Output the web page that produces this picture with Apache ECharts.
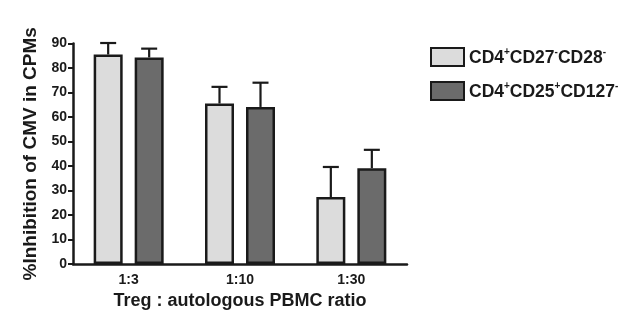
<!DOCTYPE html>
<html><head><meta charset="utf-8">
<script src="https://cdn.jsdelivr.net/npm/echarts@6/dist/echarts.min.js"></script>
<style>html,body{margin:0;padding:0;background:#fff}#c{width:637px;height:325px}</style>
</head><body><div id="c"></div>
<script>
var categories = ['1:3', '1:10', '1:30'];
var seriesNames = ['CD4+CD27-CD28-', 'CD4+CD25+CD127-'];
var meanA = [85.5, 65.5, 27.3];
var errTopA = [90.2, 72.3, 39.6];
var meanB = [84.3, 64.1, 39.1];
var errTopB = [87.9, 74.0, 46.6];
var yTicks = [0, 10, 20, 30, 40, 50, 60, 70, 80, 90];

var BW = 29, GAP = 12;
var chart = echarts.init(document.getElementById('c'), null, {renderer: 'canvas'});
var font = 'Liberation Sans, Arial, sans-serif';
var ink = '#1a1a1a';

function errSeries(name, means, tops, idx) {
  var data = categories.map(function (c, i) { return [i, means[i], tops[i]]; });
  return {
    type: 'custom', name: name + '_err', data: data, z: 1,
    renderItem: function (params, api) {
      var off = (idx === 0 ? -1 : 1) * (BW + GAP) / 2;
      var p0 = api.coord([api.value(0), api.value(1)]);
      var p1 = api.coord([api.value(0), api.value(2)]);
      var x = p0[0] + off;
      var st = {stroke: ink, lineWidth: 2.2};
      return {type: 'group', children: [
        {type: 'line', shape: {x1: x, y1: p0[1], x2: x, y2: p1[1]}, style: st},
        {type: 'line', shape: {x1: x - 8, y1: p1[1], x2: x + 8, y2: p1[1]}, style: st}
      ]};
    },
    encode: {x: 0, y: [1, 2]}, silent: true
  };
}

var richStyles = {
  b: {fontFamily: font, fontWeight: 'bold', fontSize: 17.5, color: ink, verticalAlign: 'bottom', lineHeight: 20},
  s: {fontFamily: font, fontWeight: 'bold', fontSize: 10, color: ink, verticalAlign: 'top', lineHeight: 20, padding: [0, 0, 8, 0]}
};
function fmtLegend(name) {
  var out = '';
  var re = /(CD\d+)([+-])/g, m;
  while ((m = re.exec(name))) {
    out += '{b|' + m[1] + '}{s|' + m[2] + '}';
  }
  return out;
}

chart.setOption({
  animation: false,
  backgroundColor: '#fff',
  grid: {left: 73, top: 43.5, bottom: 61, right: 230, containLabel: false},
  legend: {
    orient: 'vertical', left: 425, top: 42, itemWidth: 33, itemHeight: 18, itemGap: 14,
    icon: 'rect',
    data: seriesNames, formatter: fmtLegend,
    textStyle: {rich: richStyles}
  },
  xAxis: {
    type: 'category', data: categories,
    name: 'Treg : autologous PBMC ratio', nameLocation: 'middle', nameGap: 28,
    nameTextStyle: {fontFamily: font, fontWeight: 'bold', fontSize: 18, color: ink},
    axisLine: {lineStyle: {color: ink, width: 2.5}},
    axisTick: {alignWithLabel: true, length: 4, lineStyle: {color: ink, width: 2}},
    axisLabel: {fontFamily: font, fontWeight: 'bold', fontSize: 14, color: ink, margin: 9}
  },
  yAxis: {
    type: 'value', min: yTicks[0], max: yTicks[yTicks.length - 1], interval: 10,
    name: '%Inhibition of CMV in CPMs', nameLocation: 'middle', nameGap: 33,
    nameTextStyle: {fontFamily: font, fontWeight: 'bold', fontSize: 19, color: ink},
    axisLine: {show: true, lineStyle: {color: ink, width: 2.5}},
    axisTick: {show: true, length: 5, lineStyle: {color: ink, width: 2}},
    axisLabel: {fontFamily: font, fontWeight: 'bold', fontSize: 14, color: ink, margin: 6},
    splitLine: {show: false}
  },
  series: [
    {type: 'bar', name: seriesNames[0], data: meanA, barWidth: BW, barGap: (GAP / BW * 100) + '%', z: 2,
     itemStyle: {color: '#dcdcdc', borderColor: ink, borderWidth: 2.5}},
    {type: 'bar', name: seriesNames[1], data: meanB, barWidth: BW, z: 2,
     itemStyle: {color: '#6b6b6b', borderColor: ink, borderWidth: 2.5}},
    errSeries(seriesNames[0], meanA, errTopA, 0),
    errSeries(seriesNames[1], meanB, errTopB, 1)
  ]
});
</script></body></html>
